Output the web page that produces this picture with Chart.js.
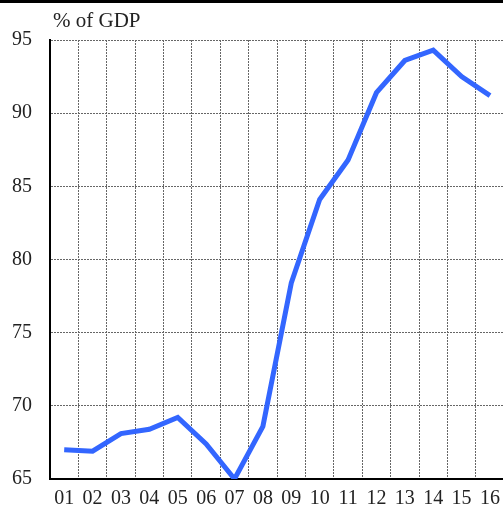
<!DOCTYPE html>
<html>
<head>
<meta charset="utf-8">
<script src="https://cdn.jsdelivr.net/npm/chart.js@4/dist/chart.umd.min.js"></script>
<style>
  html, body { margin: 0; padding: 0; overflow: hidden; background: #fff; }
  #wrap { position: relative; width: 508px; height: 519px; }
</style>
</head>
<body>
<div id="wrap"><canvas id="chart-debt" width="508" height="519"></canvas></div>
<script>
// years shown as two-digit labels
var years = ['01', '02', '03', '04', '05', '06', '07', '08', '09', '10', '11', '12', '13', '14', '15', '16'];
// debt ratio, % of GDP
var debtRatio = [67.0, 66.9, 68.1, 68.4, 69.2, 67.4, 65.0, 68.6, 78.4, 84.1, 86.8, 91.4, 93.6, 94.3, 92.5, 91.2];
var yTicks = [65, 70, 75, 80, 85, 90, 95];

var serif = '"Liberation Serif", "Times New Roman", "DejaVu Serif", serif';

// black rule along the top edge and the unit label over the plot
var decorations = {
  id: 'decorations',
  afterDraw: function(chart) {
    var ctx = chart.ctx;
    ctx.save();
    ctx.fillStyle = '#000';
    ctx.fillRect(0, 0, chart.width, 3);
    ctx.font = '21px ' + serif;
    ctx.fillStyle = '#222';
    ctx.textBaseline = 'alphabetic';
    ctx.fillText('% of GDP', chart.chartArea.left + 3, 27);
    ctx.restore();
  }
};

var drawChart = function() {
  var ctx = document.getElementById('chart-debt').getContext('2d');
  new Chart(ctx, {
    type: 'line',
    data: {
      labels: years,
      datasets: [{
        data: debtRatio,
        borderColor: '#3366ff',
        borderWidth: 5,
        pointRadius: 0,
        tension: 0,
        fill: false
      }]
    },
    options: {
      responsive: false,
      animation: false,
      devicePixelRatio: 1,
      layout: { padding: { top: 40, right: 0, left: 0, bottom: 0 } },
      plugins: {
        legend: { display: false },
        tooltip: { enabled: false }
      },
      scales: {
        x: {
          offset: true,
          grid: { offset: true, color: '#666', lineWidth: 1, drawTicks: false },
          border: { display: true, color: '#000', width: 2, dash: [2, 1] },
          ticks: { color: '#222', font: { family: serif, size: 20 }, padding: 8, maxRotation: 0, autoSkip: false }
        },
        y: {
          min: 65,
          max: 95,
          afterBuildTicks: function(scale) {
            scale.ticks = yTicks.map(function(v) { return { value: v }; });
          },
          grid: { color: '#666', lineWidth: 1, drawTicks: false },
          border: { display: true, color: '#000', width: 2, dash: [2, 1] },
          ticks: { color: '#222', font: { family: serif, size: 20 }, padding: 18 },
          afterFit: function(scale) { scale.width = 50; }
        }
      }
    },
    plugins: [decorations]
  });
};

// make sure the serif face is ready before the canvas text is drawn
Promise.all([
  document.fonts.load('20px "Liberation Serif"'),
  document.fonts.load('21px "Liberation Serif"')
]).then(drawChart, drawChart);
</script>
</body>
</html>
